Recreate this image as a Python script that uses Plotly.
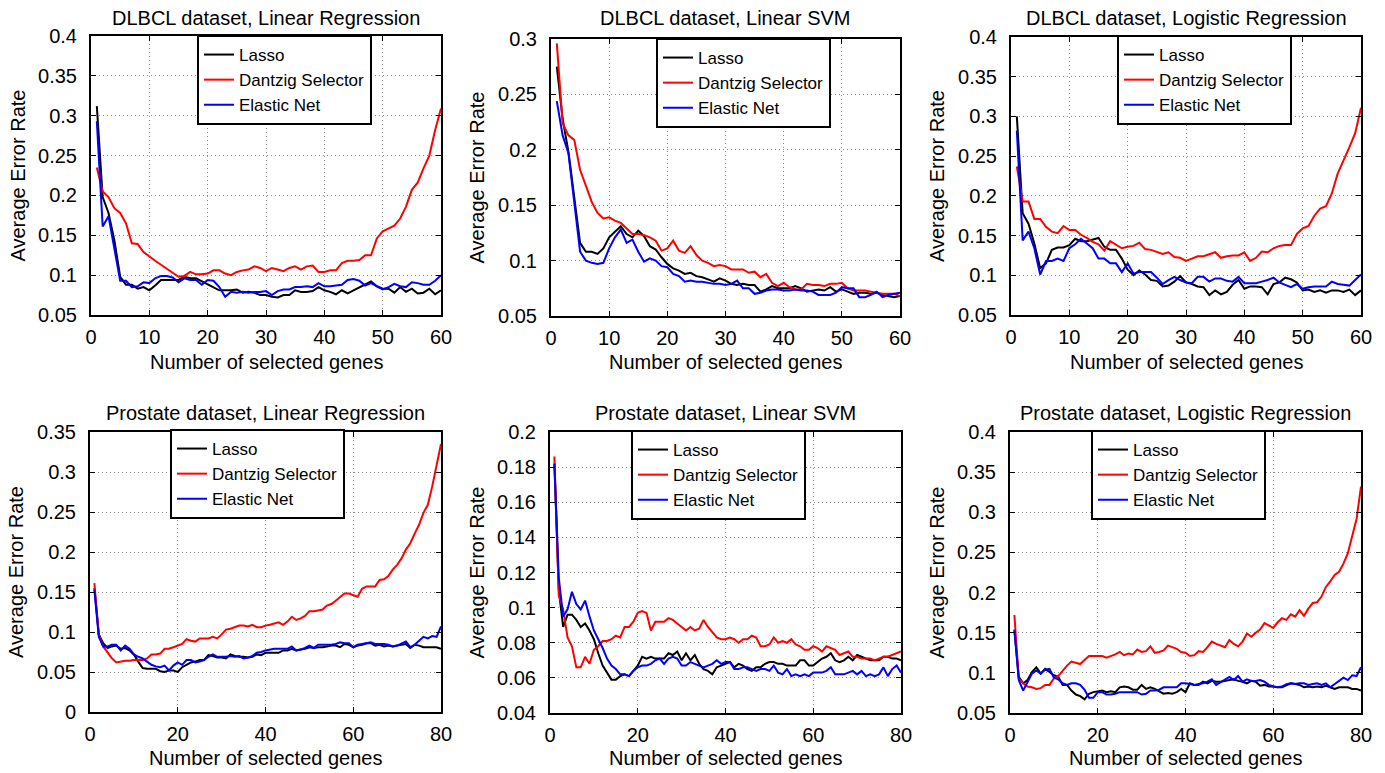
import plotly.graph_objects as go

# ---------------- data ----------------
genes_dlbcl = list(range(1, 61))
genes_prostate = list(range(1, 81))

titles = ["DLBCL dataset, Linear Regression", "DLBCL dataset, Linear SVM",
          "DLBCL dataset, Logistic Regression", "Prostate dataset, Linear Regression",
          "Prostate dataset, Linear SVM", "Prostate dataset, Logistic Regression"]
series_names = ["Lasso", "Dantzig Selector", "Elastic Net"]

x_ticks_dlbcl = [0, 10, 20, 30, 40, 50, 60]
x_ticks_prostate = [0, 20, 40, 60, 80]
y_ticks_04 = [0.05, 0.1, 0.15, 0.2, 0.25, 0.3, 0.35, 0.4]
y_ticks_03 = [0.05, 0.1, 0.15, 0.2, 0.25, 0.3]
y_ticks_035 = [0, 0.05, 0.1, 0.15, 0.2, 0.25, 0.3, 0.35]
y_ticks_02 = [0.04, 0.06, 0.08, 0.1, 0.12, 0.14, 0.16, 0.18, 0.2]

# DLBCL, Linear Regression
lr_dlbcl_lasso = [0.312, 0.198, 0.178, 0.144, 0.098, 0.088, 0.088, 0.083, 0.085, 0.081,
                  0.087, 0.094, 0.094, 0.094, 0.094, 0.098, 0.096, 0.096, 0.092, 0.088,
                  0.084, 0.081, 0.081, 0.081, 0.082, 0.078, 0.079, 0.078, 0.075, 0.075,
                  0.073, 0.072, 0.075, 0.075, 0.081, 0.079, 0.079, 0.080, 0.085, 0.081,
                  0.079, 0.076, 0.081, 0.077, 0.081, 0.085, 0.088, 0.092, 0.086, 0.083,
                  0.083, 0.078, 0.085, 0.079, 0.083, 0.077, 0.078, 0.083, 0.076, 0.081]
lr_dlbcl_dantzig = [0.235, 0.205, 0.198, 0.184, 0.178, 0.165, 0.140, 0.139, 0.129, 0.123,
                    0.118, 0.113, 0.108, 0.103, 0.098, 0.099, 0.104, 0.101, 0.101, 0.102,
                    0.106, 0.106, 0.102, 0.100, 0.104, 0.106, 0.107, 0.111, 0.109, 0.105,
                    0.109, 0.107, 0.105, 0.109, 0.111, 0.107, 0.111, 0.112, 0.104, 0.104,
                    0.106, 0.106, 0.115, 0.118, 0.118, 0.119, 0.125, 0.125, 0.146, 0.155,
                    0.158, 0.162, 0.171, 0.186, 0.207, 0.216, 0.234, 0.250, 0.282, 0.309]
lr_dlbcl_enet = [0.293, 0.161, 0.174, 0.134, 0.093, 0.093, 0.085, 0.086, 0.091, 0.090,
                 0.096, 0.099, 0.099, 0.097, 0.091, 0.096, 0.094, 0.094, 0.088, 0.094,
                 0.093, 0.085, 0.073, 0.079, 0.078, 0.079, 0.078, 0.079, 0.079, 0.080,
                 0.075, 0.080, 0.082, 0.082, 0.085, 0.085, 0.086, 0.085, 0.090, 0.086,
                 0.086, 0.087, 0.088, 0.094, 0.095, 0.093, 0.087, 0.090, 0.086, 0.082,
                 0.085, 0.089, 0.086, 0.085, 0.091, 0.090, 0.088, 0.088, 0.093, 0.100]

# DLBCL, Linear SVM
svm_dlbcl_lasso = [0.275, 0.228, 0.198, 0.155, 0.116, 0.108, 0.108, 0.106, 0.111, 0.121,
                   0.126, 0.131, 0.124, 0.121, 0.127, 0.122, 0.113, 0.110, 0.103, 0.097,
                   0.093, 0.091, 0.088, 0.089, 0.086, 0.085, 0.083, 0.081, 0.084, 0.082,
                   0.079, 0.078, 0.079, 0.078, 0.078, 0.072, 0.074, 0.077, 0.075, 0.075,
                   0.075, 0.077, 0.075, 0.072, 0.073, 0.074, 0.073, 0.076, 0.072, 0.074,
                   0.072, 0.070, 0.071, 0.071, 0.070, 0.071, 0.069, 0.068, 0.067, 0.068]
svm_dlbcl_dantzig = [0.296, 0.224, 0.213, 0.209, 0.182, 0.167, 0.153, 0.143, 0.138, 0.139,
                     0.136, 0.134, 0.129, 0.124, 0.124, 0.123, 0.121, 0.118, 0.109, 0.111,
                     0.118, 0.109, 0.107, 0.113, 0.105, 0.100, 0.098, 0.095, 0.096, 0.095,
                     0.092, 0.092, 0.092, 0.089, 0.090, 0.085, 0.088, 0.080, 0.077, 0.080,
                     0.076, 0.074, 0.074, 0.079, 0.078, 0.078, 0.077, 0.079, 0.079, 0.080,
                     0.075, 0.073, 0.073, 0.073, 0.072, 0.071, 0.070, 0.070, 0.070, 0.068]
svm_dlbcl_enet = [0.244, 0.213, 0.197, 0.155, 0.108, 0.100, 0.098, 0.097, 0.098, 0.111,
                  0.121, 0.128, 0.116, 0.119, 0.108, 0.099, 0.102, 0.100, 0.095, 0.094,
                  0.088, 0.086, 0.081, 0.082, 0.081, 0.081, 0.080, 0.079, 0.079, 0.078,
                  0.079, 0.082, 0.075, 0.075, 0.070, 0.071, 0.073, 0.074, 0.074, 0.073,
                  0.073, 0.074, 0.073, 0.073, 0.072, 0.069, 0.069, 0.069, 0.071, 0.076,
                  0.075, 0.075, 0.067, 0.067, 0.069, 0.072, 0.067, 0.069, 0.070, 0.071]

# DLBCL, Logistic Regression
log_dlbcl_lasso = [0.300, 0.178, 0.165, 0.140, 0.109, 0.115, 0.132, 0.135, 0.135, 0.138,
                   0.146, 0.143, 0.143, 0.145, 0.147, 0.136, 0.132, 0.132, 0.121, 0.107,
                   0.100, 0.106, 0.101, 0.094, 0.093, 0.086, 0.087, 0.092, 0.099, 0.091,
                   0.089, 0.086, 0.085, 0.075, 0.081, 0.076, 0.079, 0.088, 0.094, 0.083,
                   0.086, 0.086, 0.085, 0.076, 0.089, 0.091, 0.097, 0.095, 0.091, 0.081,
                   0.082, 0.079, 0.081, 0.078, 0.081, 0.081, 0.079, 0.082, 0.075, 0.081]
log_dlbcl_dantzig = [0.237, 0.193, 0.193, 0.171, 0.171, 0.161, 0.155, 0.153, 0.162, 0.157,
                     0.157, 0.151, 0.147, 0.142, 0.139, 0.131, 0.143, 0.138, 0.134, 0.136,
                     0.137, 0.141, 0.133, 0.132, 0.129, 0.127, 0.129, 0.123, 0.122, 0.118,
                     0.121, 0.124, 0.124, 0.127, 0.129, 0.122, 0.124, 0.125, 0.125, 0.129,
                     0.118, 0.122, 0.130, 0.129, 0.134, 0.137, 0.138, 0.138, 0.152, 0.159,
                     0.162, 0.175, 0.184, 0.187, 0.203, 0.228, 0.244, 0.261, 0.279, 0.311]
log_dlbcl_enet = [0.282, 0.144, 0.155, 0.134, 0.101, 0.118, 0.118, 0.121, 0.118, 0.134,
                  0.139, 0.146, 0.140, 0.134, 0.121, 0.121, 0.115, 0.115, 0.104, 0.115,
                  0.102, 0.104, 0.104, 0.104, 0.097, 0.089, 0.094, 0.098, 0.094, 0.091,
                  0.090, 0.098, 0.098, 0.092, 0.096, 0.096, 0.093, 0.092, 0.098, 0.090,
                  0.090, 0.090, 0.092, 0.094, 0.097, 0.091, 0.088, 0.085, 0.089, 0.083,
                  0.085, 0.086, 0.086, 0.086, 0.092, 0.089, 0.088, 0.087, 0.094, 0.101]

# Prostate, Linear Regression
lr_pros_lasso = [0.155, 0.097, 0.086, 0.080, 0.082, 0.083, 0.079, 0.080, 0.077, 0.072,
                 0.063, 0.055, 0.054, 0.054, 0.054, 0.051, 0.050, 0.052, 0.052, 0.050,
                 0.056, 0.059, 0.062, 0.063, 0.065, 0.065, 0.071, 0.070, 0.068, 0.068,
                 0.067, 0.072, 0.070, 0.069, 0.069, 0.068, 0.069, 0.072, 0.071, 0.074,
                 0.074, 0.074, 0.074, 0.077, 0.077, 0.079, 0.077, 0.078, 0.079, 0.081,
                 0.080, 0.081, 0.081, 0.082, 0.083, 0.083, 0.081, 0.085, 0.084, 0.081,
                 0.083, 0.084, 0.086, 0.086, 0.083, 0.084, 0.082, 0.083, 0.082, 0.083,
                 0.084, 0.085, 0.080, 0.084, 0.083, 0.081, 0.081, 0.081, 0.081, 0.079]
lr_pros_dantzig = [0.161, 0.097, 0.082, 0.074, 0.067, 0.062, 0.063, 0.064, 0.064, 0.065,
                   0.065, 0.065, 0.067, 0.072, 0.072, 0.073, 0.079, 0.079, 0.081, 0.083,
                   0.085, 0.091, 0.089, 0.088, 0.092, 0.092, 0.092, 0.094, 0.092, 0.097,
                   0.103, 0.104, 0.106, 0.108, 0.108, 0.107, 0.109, 0.106, 0.106, 0.108,
                   0.109, 0.111, 0.112, 0.109, 0.113, 0.119, 0.115, 0.117, 0.120, 0.126,
                   0.126, 0.127, 0.128, 0.133, 0.135, 0.139, 0.144, 0.148, 0.148, 0.146,
                   0.144, 0.154, 0.157, 0.157, 0.157, 0.165, 0.166, 0.170, 0.178, 0.184,
                   0.192, 0.203, 0.211, 0.223, 0.234, 0.249, 0.259, 0.282, 0.309, 0.335]
lr_pros_enet = [0.153, 0.094, 0.082, 0.082, 0.084, 0.084, 0.077, 0.083, 0.079, 0.072,
                0.069, 0.067, 0.063, 0.059, 0.057, 0.056, 0.058, 0.052, 0.058, 0.062,
                0.059, 0.065, 0.065, 0.062, 0.063, 0.065, 0.069, 0.072, 0.069, 0.069,
                0.069, 0.070, 0.069, 0.070, 0.067, 0.068, 0.070, 0.074, 0.075, 0.077,
                0.078, 0.079, 0.079, 0.079, 0.079, 0.082, 0.077, 0.078, 0.080, 0.083,
                0.080, 0.084, 0.084, 0.084, 0.084, 0.085, 0.087, 0.086, 0.086, 0.081,
                0.084, 0.085, 0.086, 0.087, 0.085, 0.085, 0.085, 0.084, 0.082, 0.083,
                0.085, 0.088, 0.081, 0.084, 0.089, 0.094, 0.092, 0.095, 0.094, 0.107]

# Prostate, Linear SVM
svm_pros_lasso = [0.182, 0.110, 0.089, 0.096, 0.096, 0.093, 0.089, 0.091, 0.087, 0.082,
                  0.074, 0.067, 0.063, 0.059, 0.059, 0.061, 0.062, 0.061, 0.064, 0.067,
                  0.072, 0.071, 0.072, 0.071, 0.071, 0.071, 0.074, 0.073, 0.075, 0.070,
                  0.074, 0.070, 0.073, 0.068, 0.065, 0.064, 0.062, 0.066, 0.067, 0.068,
                  0.069, 0.066, 0.068, 0.067, 0.065, 0.064, 0.066, 0.066, 0.068, 0.069,
                  0.069, 0.068, 0.068, 0.067, 0.067, 0.067, 0.070, 0.070, 0.067, 0.067,
                  0.069, 0.071, 0.072, 0.074, 0.070, 0.069, 0.070, 0.072, 0.070, 0.073,
                  0.072, 0.071, 0.070, 0.070, 0.070, 0.072, 0.072, 0.071, 0.071, 0.070]
svm_pros_dantzig = [0.186, 0.107, 0.099, 0.083, 0.078, 0.066, 0.066, 0.072, 0.068, 0.076,
                    0.078, 0.081, 0.081, 0.082, 0.084, 0.083, 0.089, 0.089, 0.092, 0.097,
                    0.098, 0.097, 0.087, 0.092, 0.092, 0.092, 0.094, 0.093, 0.091, 0.089,
                    0.087, 0.089, 0.087, 0.088, 0.093, 0.089, 0.086, 0.083, 0.082, 0.082,
                    0.083, 0.082, 0.080, 0.082, 0.082, 0.084, 0.083, 0.078, 0.078, 0.079,
                    0.083, 0.080, 0.081, 0.080, 0.082, 0.079, 0.078, 0.076, 0.076, 0.078,
                    0.077, 0.075, 0.078, 0.077, 0.076, 0.073, 0.074, 0.075, 0.072, 0.072,
                    0.071, 0.071, 0.071, 0.070, 0.071, 0.072, 0.072, 0.073, 0.074, 0.075]
svm_pros_enet = [0.182, 0.117, 0.095, 0.099, 0.109, 0.102, 0.099, 0.104, 0.095, 0.087,
                 0.082, 0.077, 0.071, 0.067, 0.065, 0.062, 0.062, 0.061, 0.064, 0.066,
                 0.067, 0.067, 0.068, 0.070, 0.071, 0.068, 0.071, 0.072, 0.071, 0.067,
                 0.067, 0.069, 0.068, 0.067, 0.066, 0.067, 0.068, 0.070, 0.068, 0.069,
                 0.069, 0.065, 0.065, 0.066, 0.066, 0.065, 0.064, 0.065, 0.065, 0.064,
                 0.067, 0.063, 0.062, 0.065, 0.061, 0.062, 0.061, 0.062, 0.061, 0.063,
                 0.063, 0.063, 0.064, 0.066, 0.062, 0.062, 0.062, 0.063, 0.064, 0.062,
                 0.064, 0.061, 0.062, 0.061, 0.062, 0.066, 0.061, 0.065, 0.067, 0.063]

# Prostate, Logistic Regression
log_pros_lasso = [0.153, 0.095, 0.087, 0.091, 0.101, 0.107, 0.099, 0.105, 0.101, 0.097,
                  0.095, 0.085, 0.085, 0.078, 0.073, 0.071, 0.067, 0.074, 0.076, 0.077,
                  0.078, 0.076, 0.077, 0.076, 0.082, 0.083, 0.082, 0.079, 0.079, 0.085,
                  0.080, 0.082, 0.080, 0.077, 0.074, 0.075, 0.074, 0.076, 0.080, 0.076,
                  0.087, 0.085, 0.085, 0.089, 0.087, 0.090, 0.089, 0.089, 0.090, 0.091,
                  0.092, 0.090, 0.089, 0.087, 0.090, 0.089, 0.084, 0.085, 0.083, 0.083,
                  0.082, 0.082, 0.085, 0.087, 0.086, 0.085, 0.082, 0.083, 0.082, 0.083,
                  0.082, 0.084, 0.082, 0.080, 0.082, 0.082, 0.082, 0.080, 0.080, 0.078]
log_pros_dantzig = [0.172, 0.093, 0.087, 0.083, 0.082, 0.080, 0.081, 0.085, 0.085, 0.093,
                    0.096, 0.103, 0.109, 0.114, 0.112, 0.111, 0.116, 0.121, 0.121, 0.121,
                    0.121, 0.119, 0.121, 0.123, 0.126, 0.122, 0.124, 0.123, 0.129, 0.126,
                    0.127, 0.133, 0.125, 0.126, 0.128, 0.134, 0.132, 0.130, 0.126, 0.125,
                    0.121, 0.122, 0.127, 0.126, 0.132, 0.139, 0.136, 0.134, 0.132, 0.141,
                    0.136, 0.133, 0.139, 0.149, 0.145, 0.150, 0.154, 0.162, 0.159, 0.156,
                    0.163, 0.168, 0.166, 0.173, 0.170, 0.178, 0.171, 0.180, 0.187, 0.188,
                    0.195, 0.207, 0.214, 0.222, 0.226, 0.236, 0.249, 0.270, 0.292, 0.332]
log_pros_enet = [0.154, 0.091, 0.078, 0.089, 0.099, 0.103, 0.099, 0.104, 0.105, 0.094,
                 0.092, 0.087, 0.085, 0.087, 0.087, 0.085, 0.079, 0.069, 0.069, 0.076,
                 0.076, 0.073, 0.073, 0.074, 0.076, 0.076, 0.076, 0.076, 0.076, 0.073,
                 0.074, 0.078, 0.078, 0.079, 0.082, 0.082, 0.082, 0.082, 0.087, 0.087,
                 0.086, 0.085, 0.086, 0.087, 0.089, 0.092, 0.085, 0.088, 0.092, 0.095,
                 0.091, 0.096, 0.089, 0.092, 0.090, 0.090, 0.091, 0.089, 0.085, 0.083,
                 0.082, 0.083, 0.086, 0.087, 0.086, 0.087, 0.087, 0.085, 0.086, 0.087,
                 0.085, 0.087, 0.082, 0.086, 0.091, 0.094, 0.091, 0.097, 0.096, 0.107]

# ---------------- layout config ----------------
W, H = 1385, 773
FONT = "Liberation Sans, Arial, Helvetica, sans-serif"
colors = ["#000000", "#ff0000", "#0000ff"]

panels = [
    dict(x=genes_dlbcl, ys=[lr_dlbcl_lasso, lr_dlbcl_dantzig, lr_dlbcl_enet],
         xr=[0, 60], xt=x_ticks_dlbcl, yr=[0.05, 0.4], yt=y_ticks_04,
         box=(91, 441, 36, 315), leg=(197, 35)),
    dict(x=genes_dlbcl, ys=[svm_dlbcl_lasso, svm_dlbcl_dantzig, svm_dlbcl_enet],
         xr=[0, 60], xt=x_ticks_dlbcl, yr=[0.05, 0.3], yt=y_ticks_03,
         box=(551, 900, 39, 316), leg=(656, 38)),
    dict(x=genes_dlbcl, ys=[log_dlbcl_lasso, log_dlbcl_dantzig, log_dlbcl_enet],
         xr=[0, 60], xt=x_ticks_dlbcl, yr=[0.05, 0.4], yt=y_ticks_04,
         box=(1011, 1361, 37, 315), leg=(1117, 35)),
    dict(x=genes_prostate, ys=[lr_pros_lasso, lr_pros_dantzig, lr_pros_enet],
         xr=[0, 80], xt=x_ticks_prostate, yr=[0, 0.35], yt=y_ticks_035,
         box=(90, 441, 432, 712), leg=(170, 429)),
    dict(x=genes_prostate, ys=[svm_pros_lasso, svm_pros_dantzig, svm_pros_enet],
         xr=[0, 80], xt=x_ticks_prostate, yr=[0.04, 0.2], yt=y_ticks_02,
         box=(550, 901, 432, 713), leg=(631, 430)),
    dict(x=genes_prostate, ys=[log_pros_lasso, log_pros_dantzig, log_pros_enet],
         xr=[0, 80], xt=x_ticks_prostate, yr=[0.05, 0.4], yt=y_ticks_04,
         box=(1010, 1361, 432, 713), leg=(1091, 430)),
]

def fmt(v):
    s = ("%.2f" % v).rstrip("0").rstrip(".")
    return s if s else "0"

fig = go.Figure()
layout = dict(width=W, height=H,
              margin=dict(l=0, r=0, t=0, b=0, pad=0, autoexpand=False),
              paper_bgcolor="white", plot_bgcolor="white",
              font=dict(family=FONT, color="black", size=20),
              annotations=[], showlegend=True)

for i, p in enumerate(panels):
    n = i + 1
    sfx = "" if n == 1 else str(n)
    x0, x1, y0, y1 = p["box"]
    xd = [x0 / W, x1 / W]
    yd = [1 - y1 / H, 1 - y0 / H]
    legname = "legend" + sfx
    for name, ys, c in zip(series_names, p["ys"], colors):
        fig.add_trace(go.Scatter(x=p["x"], y=ys, mode="lines", name=name,
                                 line=dict(color=c, width=2),
                                 xaxis="x" + sfx, yaxis="y" + sfx,
                                 legend=legname))
    common = dict(showline=True, linecolor="black", linewidth=2, mirror="ticks",
                  ticks="inside", ticklen=5, tickcolor="black", tickwidth=1,
                  showgrid=True, gridcolor="#8a8a8a", griddash="1px,3px", gridwidth=1,
                  zeroline=False, tickfont=dict(size=20, family=FONT, color="black"),
                  fixedrange=True, automargin=False)
    layout["xaxis" + sfx] = dict(common, domain=xd, range=p["xr"], anchor="y" + sfx,
                                 tickvals=p["xt"], ticktext=[str(t) for t in p["xt"]],
                                 ticklabelstandoff=3)
    layout["yaxis" + sfx] = dict(common, domain=yd, range=p["yr"], anchor="x" + sfx,
                                 tickvals=p["yt"], ticktext=[fmt(t) for t in p["yt"]],
                                 ticklabelstandoff=8)
    lx, ly = p["leg"]
    layout[legname] = dict(x=lx / W, y=1 - ly / H, xanchor="left", yanchor="top",
                           bgcolor="white", bordercolor="black", borderwidth=2,
                           font=dict(size=17, family=FONT, color="black"),
                           tracegroupgap=0)
    cx = (x0 + x1) / 2 / W
    title_y = 18 if y0 < 200 else 413
    xt_y = 362 if y0 < 200 else 758
    layout["annotations"].append(dict(text=titles[i], x=cx, y=1 - title_y / H,
                                      xref="paper", yref="paper", showarrow=False,
                                      xanchor="center", yanchor="middle",
                                      font=dict(size=20, family=FONT, color="black")))
    layout["annotations"].append(dict(text="Number of selected genes", x=cx, y=1 - xt_y / H,
                                      xref="paper", yref="paper", showarrow=False,
                                      xanchor="center", yanchor="middle",
                                      font=dict(size=20, family=FONT, color="black")))
    layout["annotations"].append(dict(text="Average Error Rate", x=(x0 - 74) / W,
                                      y=1 - (y0 + y1) / 2 / H,
                                      xref="paper", yref="paper", showarrow=False,
                                      textangle=-90, xanchor="center", yanchor="middle",
                                      font=dict(size=20, family=FONT, color="black")))

fig.update_layout(**layout)
fig.write_html("out.html")
